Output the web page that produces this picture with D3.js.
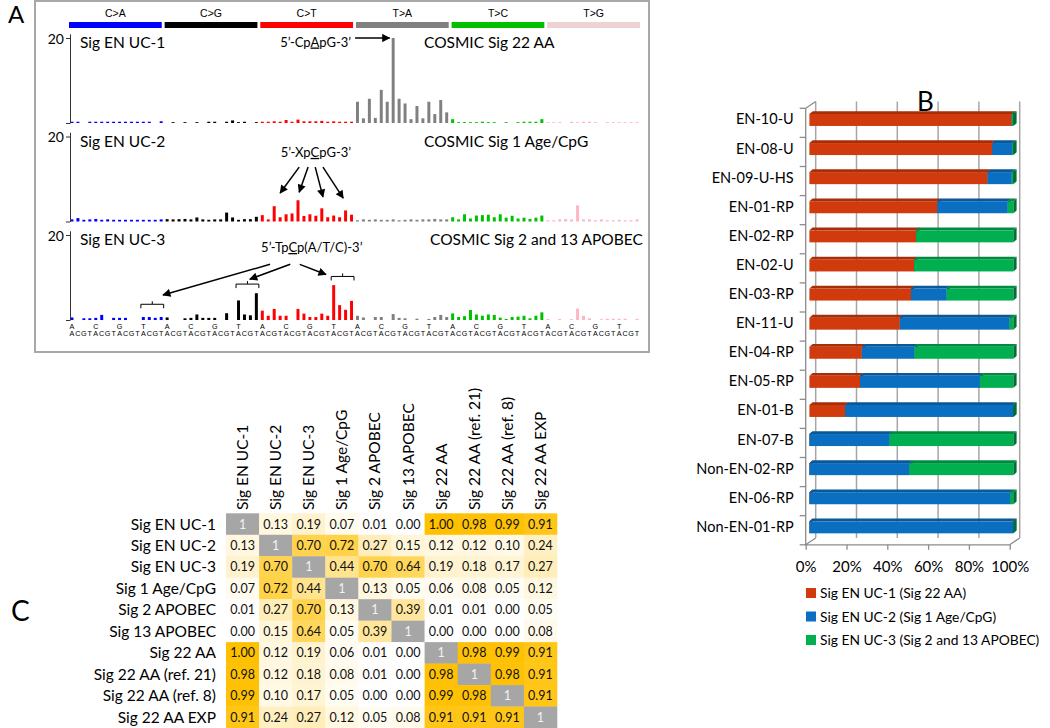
<!DOCTYPE html>
<html>
<head>
<meta charset="utf-8">
<title>Mutational signatures</title>
<script src="https://cdn.jsdelivr.net/npm/d3@7/dist/d3.min.js"></script>
<style>
    body { margin: 0; background: #ffffff; }
    svg { display: block; font-family: Lato, "Open Sans", sans-serif; }
    .arial { font-family: "Liberation Sans", Arial, sans-serif; }
</style>
</head>
<body>
<div id="chart-area"></div>
<script>

// ---------- panel A: % of substitutions in the 96 trinucleotide channels ----------
const mutationTypes = ["C>A", "C>G", "C>T", "T>A", "T>C", "T>G"];
const bases = ["A", "C", "G", "T"];

const sigEnUc1 = [
    0.3, 0.3, 0, 0.3, 0.3, 0.3, 0.3, 0.3, 0.3, 0.3, 0.3, 0.3, 0.3, 0.3, 0, 0.4,
    0, 0.2, 0, 0.2, 0, 0.2, 0, 0.3, 0.3, 0, 0.3, 0.6, 0.2, 0.3, 0, 0.2,
    0.3, 0.3, 0.4, 0.3, 0.7, 0.3, 0.8, 0.4, 0.4, 0.4, 0.5, 0.3, 0.4, 0.3, 0.3, 0.3,
    5.0, 1.1, 5.7, 1.2, 7.8, 5.0, 20.0, 5.7, 4.6, 0.9, 4.0, 1.1, 5.0, 2.1, 5.4, 2.5,
    0.9, 0.2, 0.2, 0.2, 0.2, 0.3, 0.2, 0.2, 0, 0.2, 0, 0.2, 0.3, 0.3, 0.3, 0.9,
    0.2, 0.2, 0.2, 0, 0.3, 0.2, 0.3, 0.3, 0.2, 0, 0.2, 0.2, 0.2, 0.2, 0.2, 0.2
];
const sigEnUc2 = [
    0.5, 0.8, 0.4, 0.5, 0.6, 0.4, 0.5, 0.4, 0.4, 0.4, 0.4, 0.4, 0.4, 0.4, 0.4, 0.5,
    0.55, 0.5, 0.55, 0.6, 0.5, 0.95, 0.5, 0.4, 0.5, 0.5, 2.1, 0.95, 0.4, 0.55, 0.55, 1.1,
    1.5, 0.5, 3.6, 1.0, 1.7, 1.9, 5.0, 1.3, 1.7, 1.35, 3.1, 1.0, 1.4, 1.0, 2.6, 1.6,
    0.3, 0.5, 0.4, 0.5, 0.4, 0.4, 0.5, 0.3, 0.4, 0.5, 0.4, 0.5, 0.5, 0.6, 0.5, 0.5,
    1.0, 0.5, 1.7, 0.7, 1.4, 1.5, 1.6, 1.0, 1.7, 0.9, 1.35, 0.7, 0.9, 0.6, 0.9, 1.4,
    0.3, 0.3, 0.5, 0.6, 0.5, 3.8, 0.5, 0.5, 0.3, 0.5, 0.3, 0.3, 0.4, 0.3, 0.3, 0.5
];
const sigEnUc3 = [
    0.6, 0, 0.4, 0.4, 0.5, 1.2, 0, 0.5, 0.5, 0.5, 0, 0, 0.7, 0.7, 0.5, 0.7,
    0.6, 0, 0, 0.4, 0.5, 1.3, 0.5, 0.5, 0.5, 0, 1.6, 0, 4.6, 1.3, 1.1, 6.3,
    2.2, 1.0, 2.6, 1.0, 1.0, 0, 2.6, 1.5, 0.7, 0.7, 1.5, 1.0, 8.2, 3.5, 2.4, 4.5,
    1.0, 0.6, 0, 0.7, 0.7, 0, 1.4, 0.5, 0.4, 0, 0.3, 0, 0.25, 0.7, 1.2, 0.7,
    1.55, 0.7, 0.9, 2.35, 1.3, 1.0, 1.3, 1.2, 0.55, 0.25, 0.7, 0.8, 1.0, 0.4, 1.0, 1.8,
    0.25, 0, 0.25, 0, 0.2, 2.7, 1.0, 0.4, 0, 0.2, 0.3, 0.3, 0.3, 0.3, 0, 0.3
];
const spectrumNames = ["Sig EN UC-1", "Sig EN UC-2", "Sig EN UC-3"];
const cosmicNames = ["COSMIC Sig 22 AA", "COSMIC Sig 1 Age/CpG", "COSMIC Sig 2 and 13 APOBEC"];

// ---------- panel B: share of each signature per sample (%) ----------
const sampleNames = ["EN-10-U", "EN-08-U", "EN-09-U-HS", "EN-01-RP", "EN-02-RP", "EN-02-U", "EN-03-RP",
    "EN-11-U", "EN-04-RP", "EN-05-RP", "EN-01-B", "EN-07-B", "Non-EN-02-RP", "EN-06-RP", "Non-EN-01-RP"];
const ucOneShare   = [99.2, 89.6, 87.3, 62.7, 52.3, 51.3, 49.8, 44.3, 25.7, 24.8, 17.5, 0, 0, 0, 0];
const ucTwoShare   = [0, 9.9, 11.9, 34.5, 0, 0, 17.5, 53.8, 25.8, 58.8, 82.3, 39.2, 49.0, 98.4, 99.8];
const ucThreeShare = [0.8, 0.5, 0.8, 2.8, 47.7, 48.7, 32.7, 1.9, 48.5, 16.4, 0.2, 60.8, 51.0, 1.6, 0.2];
const exposureLabels = ["Sig EN UC-1 (Sig 22 AA)", "Sig EN UC-2 (Sig 1 Age/CpG)", "Sig EN UC-3 (Sig 2 and 13 APOBEC)"];
const percentTicks = [0, 20, 40, 60, 80, 100];

// ---------- panel C: cosine similarity between signatures ----------
const simLabels = ["Sig EN UC-1", "Sig EN UC-2", "Sig EN UC-3", "Sig 1 Age/CpG", "Sig 2 APOBEC",
    "Sig 13 APOBEC", "Sig 22 AA", "Sig 22 AA (ref. 21)", "Sig 22 AA (ref. 8)", "Sig 22 AA EXP"];
const simValues = [
    [1, 0.13, 0.19, 0.07, 0.01, 0.00, 1.00, 0.98, 0.99, 0.91],
    [0.13, 1, 0.70, 0.72, 0.27, 0.15, 0.12, 0.12, 0.10, 0.24],
    [0.19, 0.70, 1, 0.44, 0.70, 0.64, 0.19, 0.18, 0.17, 0.27],
    [0.07, 0.72, 0.44, 1, 0.13, 0.05, 0.06, 0.08, 0.05, 0.12],
    [0.01, 0.27, 0.70, 0.13, 1, 0.39, 0.01, 0.01, 0.00, 0.05],
    [0.00, 0.15, 0.64, 0.05, 0.39, 1, 0.00, 0.00, 0.00, 0.08],
    [1.00, 0.12, 0.19, 0.06, 0.01, 0.00, 1, 0.98, 0.99, 0.91],
    [0.98, 0.12, 0.18, 0.08, 0.01, 0.00, 0.98, 1, 0.98, 0.91],
    [0.99, 0.10, 0.17, 0.05, 0.00, 0.00, 0.99, 0.98, 1, 0.91],
    [0.91, 0.24, 0.27, 0.12, 0.05, 0.08, 0.91, 0.91, 0.91, 1]
];

// colours
const mutColors = ["#0000ff", "#000000", "#ff0000", "#808080", "#00c000", "#ffb6c1"];
const headerColors = ["#0000ff", "#000000", "#ff0000", "#808080", "#00c000", "#efd2d2"];
const frontColors = ["#d03a0c", "#0a6fc0", "#00b050"];
const topColors = ["#a72e08", "#08589a", "#008c40"];
const sideColors = ["#8a2606", "#064a80", "#006f34"];


/* * * * * * * * * * * * * *
*     class SpectrumVis     *
* * * * * * * * * * * * * */

class SpectrumVis {

    constructor(svg, seriesList) {
        this.svg = svg;
        this.seriesList = seriesList;
        this.initVis();
    }

    initVis() {
        let vis = this;

        vis.left = 69;
        vis.right = 640;
        vis.ppu = 4.25;                  // px per percent
        vis.baselines = [123, 221.5, 320];

        vis.g = vis.svg.append("g").attr("class", "panel-a");

        // frame round the panel
        vis.g.append("rect")
            .attr("x", 35).attr("y", 1)
            .attr("width", 614).attr("height", 351)
            .attr("fill", "none")
            .attr("stroke", "#a8a8a8")
            .attr("stroke-width", 2);

        vis.x = d3.scaleBand()
            .domain(d3.range(96))
            .range([vis.left, vis.right])
            .paddingInner(0.5)
            .paddingOuter(0.25);

        // fractional channel position, for annotations
        vis.chPos = d3.scaleLinear().domain([0, 96]).range([vis.left, vis.right]);

        vis.groupX = d3.scaleBand()
            .domain(mutationTypes)
            .range([vis.left, vis.right])
            .paddingInner(0.03);

        // arrow head
        vis.svg.append("defs").append("marker")
            .attr("id", "arrowHead")
            .attr("viewBox", "0 0 10 10")
            .attr("refX", 9).attr("refY", 5)
            .attr("markerWidth", 6.5).attr("markerHeight", 5.5)
            .attr("orient", "auto")
            .append("path")
            .attr("d", "M0,0 L10,5 L0,10 z")
            .attr("fill", "#000");

        // motif notes, placed in channel / percent units
        vis.motifs = [
            {parts: ["5’-Cp", "A", "pG-3’"], ch: 35.5, v: 18.0},
            {parts: ["5’-Xp", "C", "pG-3’"], ch: 35.6, v: 15.2},
            {parts: ["5’-Tp", "C", "p(A/T/C)-3’"], ch: 32.3, v: 16.0}
        ];
        vis.arrows = [
            [[48.1, 20, 53.9, 20]],
            [[38.7, 12.8, 35.5, 6.7], [40.2, 12.8, 38.7, 6.9], [41.4, 12.8, 42.7, 5.8], [42.7, 12.8, 46.1, 5.5]],
            [[33.8, 13.1, 15.8, 5.9], [37.2, 13.1, 30.4, 9.6], [38.8, 13.1, 43.2, 10.7]]
        ];
        vis.brackets = [[], [], [[12, 3.7], [28, 8.45], [44, 10.25]]];
        vis.cosmicX = [424, 424, 430];

        vis.updateVis();
    }

    updateVis() {
        let vis = this;

        // header strip with substitution classes
        vis.g.selectAll(".class-bar")
            .data(mutationTypes)
            .enter().append("rect")
            .attr("class", "class-bar")
            .attr("x", d => vis.groupX(d))
            .attr("y", 22)
            .attr("width", vis.groupX.bandwidth())
            .attr("height", 6)
            .attr("fill", (d, i) => headerColors[i]);

        vis.g.selectAll(".class-label")
            .data(mutationTypes)
            .enter().append("text")
            .attr("class", "class-label arial")
            .attr("x", d => vis.groupX(d) + vis.groupX.bandwidth() / 2)
            .attr("y", 16.5)
            .attr("text-anchor", "middle")
            .attr("font-size", 10.5)
            .text(d => d);

        vis.seriesList.forEach((values, p) => {
            let base = vis.baselines[p];
            let y = d3.scaleLinear().domain([0, 21]).range([base, base - 21 * vis.ppu]);
            let pg = vis.g.append("g").attr("class", "spectrum");

            pg.selectAll(".bar")
                .data(values)
                .enter().append("rect")
                .attr("class", "bar")
                .attr("x", (d, i) => vis.x(i))
                .attr("y", d => y(d))
                .attr("width", vis.x.bandwidth())
                .attr("height", d => base - y(d))
                .attr("fill", (d, i) => mutColors[Math.floor(i / 16)]);

            // y axis, only 20 is written
            let axis = pg.append("g")
                .attr("class", "y-axis axis")
                .attr("transform", "translate(70,0)")
                .call(d3.axisLeft(y).tickValues([0, 20]).tickSize(4).tickSizeOuter(0)
                    .tickFormat(d => d ? d : ""));
            axis.attr("font-family", null).attr("font-size", 14);
            axis.selectAll("text").attr("x", -6).attr("dy", "0.36em");
            axis.selectAll("path, line").attr("stroke", "#333");

            // titles
            pg.append("text")
                .attr("x", 80)
                .attr("y", y(20) + 10)
                .attr("font-size", 15.5)
                .text(spectrumNames[p]);

            pg.append("text")
                .attr("x", vis.cosmicX[p])
                .attr("y", y(20) + 10)
                .attr("font-size", 15.5)
                .text(cosmicNames[p]);

            // motif with the mutated base underlined
            let m = vis.motifs[p];
            let mt = pg.append("text")
                .attr("x", vis.chPos(m.ch))
                .attr("y", y(m.v))
                .attr("font-size", 13);
            m.parts.forEach((part, k) => {
                mt.append("tspan")
                    .style("text-decoration", k === 1 ? "underline" : "none")
                    .text(part);
            });

            pg.selectAll(".note-arrow")
                .data(vis.arrows[p])
                .enter().append("line")
                .attr("class", "note-arrow")
                .attr("x1", d => vis.chPos(d[0]))
                .attr("y1", d => y(d[1]))
                .attr("x2", d => vis.chPos(d[2]))
                .attr("y2", d => y(d[3]))
                .attr("stroke", "#000")
                .attr("stroke-width", 1.5)
                .attr("marker-end", "url(#arrowHead)");

            // brackets over the TpC channels
            vis.brackets[p].forEach(b => {
                let x0 = vis.x(b[0]) - 1;
                let x1 = vis.x(b[0] + 3) + vis.x.bandwidth() + 1;
                let yy = y(b[1]);
                let xm = (x0 + x1) / 2;
                pg.append("path")
                    .attr("d", `M${x0},${yy + 4}V${yy}H${x1}V${yy + 4}M${xm},${yy}V${yy - 3}`)
                    .attr("fill", "none")
                    .attr("stroke", "#000")
                    .attr("stroke-width", 1);
            });
        });

        // trinucleotide context letters under the last spectrum
        let letterY = vis.baselines[2];
        vis.g.selectAll(".five-prime")
            .data(d3.range(96).filter(i => i % 4 === 0))
            .enter().append("text")
            .attr("class", "five-prime arial")
            .attr("x", i => vis.x(i) + vis.x.bandwidth() / 2)
            .attr("y", letterY + 8.5)
            .attr("text-anchor", "middle")
            .attr("font-size", 7.2)
            .text(i => bases[Math.floor(i / 4) % 4]);

        vis.g.selectAll(".three-prime")
            .data(d3.range(96))
            .enter().append("text")
            .attr("class", "three-prime arial")
            .attr("x", i => vis.x(i) + vis.x.bandwidth() / 2)
            .attr("y", letterY + 16)
            .attr("text-anchor", "middle")
            .attr("font-size", 7.2)
            .text(i => bases[i % 4]);
    }
}


/* * * * * * * * * * * * * *
*     class ExposureVis     *
* * * * * * * * * * * * * */

class ExposureVis {

    constructor(svg) {
        this.svg = svg;
        this.displayData = sampleNames.map((name, i) => ({
            name: name, uc1: ucOneShare[i], uc2: ucTwoShare[i], uc3: ucThreeShare[i]
        }));
        this.initVis();
    }

    initVis() {
        let vis = this;

        vis.g = vis.svg.append("g").attr("class", "panel-b");

        vis.x = d3.scaleLinear().domain([0, 100]).range([805.7, 1009.7]);
        vis.y = d3.scaleBand().domain(sampleNames).range([108.3, 544.8]);

        vis.wall = {dx: 10, dy: -6.8};
        vis.bar = {dx: 3.7, dy: -2.9, depthX: 3.2, depthY: -2.8, h: 12};

        vis.keys = ["uc1", "uc2", "uc3"];
        vis.stacked = d3.stack().keys(vis.keys)(vis.displayData);

        vis.updateVis();
    }

    updateVis() {
        let vis = this;
        let axisColor = "#8c8c8c";
        let top = vis.y.range()[0], bottom = vis.y.range()[1];

        // back wall grid
        vis.g.selectAll(".grid")
            .data(percentTicks)
            .enter().append("line")
            .attr("class", "grid")
            .attr("x1", d => vis.x(d) + vis.wall.dx)
            .attr("x2", d => vis.x(d) + vis.wall.dx)
            .attr("y1", top + vis.wall.dy)
            .attr("y2", bottom + vis.wall.dy)
            .attr("stroke", "#a6a6a6")
            .attr("stroke-width", 1.5);

        // wall / floor edges
        let x0 = vis.x(0), x1 = vis.x(100);
        vis.g.append("path")
            .attr("d", `M${x0},${top}L${x0 + vis.wall.dx},${top + vis.wall.dy}` +
                `M${x0},${bottom}L${x0 + vis.wall.dx},${bottom + vis.wall.dy}` +
                `M${x1},${bottom}L${x1 + vis.wall.dx},${bottom + vis.wall.dy}` +
                `M${x0},${top}V${bottom}H${x1}`)
            .attr("fill", "none")
            .attr("stroke", axisColor)
            .attr("stroke-width", 1.3);

        // category ticks at band edges
        vis.g.selectAll(".cat-tick")
            .data(sampleNames.map(d => vis.y(d)).concat([bottom]))
            .enter().append("line")
            .attr("class", "cat-tick")
            .attr("x1", x0 - 6).attr("x2", x0)
            .attr("y1", d => d).attr("y2", d => d)
            .attr("stroke", axisColor)
            .attr("stroke-width", 1.3);

        // bottom axis
        let xAxis = vis.g.append("g")
            .attr("class", "x-axis axis")
            .attr("transform", `translate(0,${bottom})`)
            .call(d3.axisBottom(vis.x).tickValues(percentTicks).tickSize(5).tickSizeOuter(0)
                .tickPadding(12).tickFormat(d => d + "%"));
        xAxis.select(".domain").remove();
        xAxis.attr("font-family", null).attr("font-size", 15);
        xAxis.selectAll("line").attr("stroke", axisColor).attr("stroke-width", 1.3);
        xAxis.selectAll("text").attr("fill", "#000");

        // category labels
        let yAxis = vis.g.append("g")
            .attr("class", "y-axis axis")
            .attr("transform", `translate(${x0},0)`)
            .call(d3.axisLeft(vis.y).tickSize(0).tickPadding(12));
        yAxis.select(".domain").remove();
        yAxis.attr("font-family", null).attr("font-size", 14.5);
        yAxis.selectAll("text").attr("y", -3).attr("fill", "#000");

        // 3d stacked bars
        let b = vis.bar;
        vis.stacked.forEach((series, k) => {
            let sg = vis.g.append("g").attr("class", "series-" + k);
            series.forEach(d => {
                let xa = vis.x(d[0]) + b.dx;
                let xb = vis.x(d[1]) + b.dx;
                let ya = vis.y(d.data.name) + vis.y.bandwidth() / 2 - b.h / 2 + b.dy;

                sg.append("rect")
                    .attr("x", xa).attr("y", ya)
                    .attr("width", xb - xa).attr("height", b.h)
                    .attr("fill", frontColors[k]);
                sg.append("path")
                    .attr("d", `M${xa},${ya}L${xb},${ya}L${xb + b.depthX},${ya + b.depthY}L${xa + b.depthX},${ya + b.depthY}Z`)
                    .attr("fill", topColors[k]);
                sg.append("path")
                    .attr("d", `M${xb},${ya}L${xb + b.depthX},${ya + b.depthY}L${xb + b.depthX},${ya + b.h + b.depthY}L${xb},${ya + b.h}Z`)
                    .attr("fill", sideColors[k]);
            });
        });

        // legend
        let legend = vis.g.selectAll(".legend-item")
            .data(exposureLabels)
            .enter().append("g")
            .attr("class", "legend-item")
            .attr("transform", (d, i) => `translate(806,${593 + i * 23.5})`);

        legend.append("rect")
            .attr("x", 0).attr("y", -5)
            .attr("width", 10).attr("height", 10)
            .attr("fill", (d, i) => frontColors[i]);

        legend.append("text")
            .attr("x", 14).attr("y", 5)
            .attr("font-size", 13.8)
            .text(d => d);
    }
}


/* * * * * * * * * * * * * *
*    class SimilarityVis    *
* * * * * * * * * * * * * */

class SimilarityVis {

    constructor(svg) {
        this.svg = svg;
        this.displayData = [];
        simValues.forEach((row, r) => row.forEach((v, c) => {
            this.displayData.push({row: simLabels[r], col: simLabels[c], value: v, diag: r === c});
        }));
        this.initVis();
    }

    initVis() {
        let vis = this;

        vis.g = vis.svg.append("g").attr("class", "panel-c");

        vis.x = d3.scaleBand().domain(simLabels).range([226, 557]);
        vis.y = d3.scaleBand().domain(simLabels).range([513.3, 728]);
        vis.color = d3.scaleLinear().domain([0, 1]).range(["#ffffff", "#ffc000"]);

        vis.updateVis();
    }

    updateVis() {
        let vis = this;

        vis.g.selectAll(".cell")
            .data(vis.displayData)
            .enter().append("rect")
            .attr("class", "cell")
            .attr("x", d => vis.x(d.col))
            .attr("y", d => vis.y(d.row))
            .attr("width", vis.x.bandwidth() + 0.3)
            .attr("height", vis.y.bandwidth() + 0.3)
            .attr("fill", d => d.diag ? "#a6a6a6" : vis.color(d.value));

        vis.g.selectAll(".cell-text")
            .data(vis.displayData)
            .enter().append("text")
            .attr("class", "cell-text")
            .attr("x", d => vis.x(d.col) + vis.x.bandwidth() / 2)
            .attr("y", d => vis.y(d.row) + vis.y.bandwidth() / 2 + 4.5)
            .attr("text-anchor", "middle")
            .attr("font-size", 12.5)
            .attr("fill", d => d.diag ? "#f2f2f2" : "#111")
            .text(d => d.diag ? "1" : d.value.toFixed(2));

        vis.g.selectAll(".row-label")
            .data(simLabels)
            .enter().append("text")
            .attr("class", "row-label")
            .attr("x", 216)
            .attr("y", d => vis.y(d) + vis.y.bandwidth() / 2 + 5.5)
            .attr("text-anchor", "end")
            .attr("font-size", 15.5)
            .text(d => d);

        vis.g.selectAll(".col-label")
            .data(simLabels)
            .enter().append("text")
            .attr("class", "col-label")
            .attr("transform", d => `translate(${vis.x(d) + vis.x.bandwidth() / 2 + 5.5},510) rotate(-90)`)
            .attr("font-size", 15.5)
            .text(d => d);
    }
}


// init drawing area
let svg = d3.select("#chart-area").append("svg")
    .attr("width", 1050)
    .attr("height", 728);

// panel letters
svg.selectAll(".panel-letter")
    .data([["A", 8, 23, 24], ["B", 917, 111, 26], ["C", 11, 621, 28]])
    .enter().append("text")
    .attr("class", "panel-letter")
    .attr("x", d => d[1])
    .attr("y", d => d[2])
    .attr("font-size", d => d[3])
    .text(d => d[0]);

let spectrumVis = new SpectrumVis(svg, [sigEnUc1, sigEnUc2, sigEnUc3]);
let exposureVis = new ExposureVis(svg);
let similarityVis = new SimilarityVis(svg);

</script>
</body>
</html>
